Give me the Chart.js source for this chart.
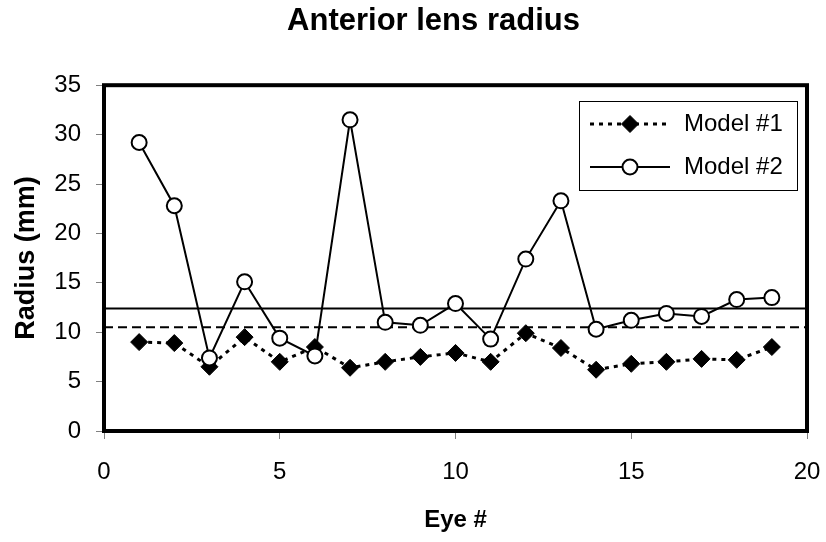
<!DOCTYPE html>
<html>
<head>
<meta charset="utf-8">
<title>Anterior lens radius</title>
<script src="https://cdn.jsdelivr.net/npm/chart.js@4/dist/chart.umd.min.js"></script>
<style>
  html, body { margin: 0; padding: 0; background: #fff; }
  #chart { display: block; }
</style>
</head>
<body>
<canvas id="chart" width="826" height="542"></canvas>
<script>
'use strict';

const eyes = [1, 2, 3, 4, 5, 6, 7, 8, 9, 10, 11, 12, 13, 14, 15, 16, 17, 18, 19];
const model1 = [9.0, 8.9, 6.5, 9.5, 7.0, 8.5, 6.4, 7.0, 7.5, 7.9, 7.0, 9.9, 8.4, 6.2, 6.8, 7.0, 7.3, 7.2, 8.5];
const model2 = [29.2, 22.8, 7.4, 15.1, 9.4, 7.6, 31.5, 11.0, 10.7, 12.9, 9.3, 17.4, 23.3, 10.3, 11.2, 11.9, 11.6, 13.3, 13.5];
const model1Ref = 10.5;
const model2Ref = 12.4;
const xTicks = [0, 5, 10, 15, 20];
const yTicks = [0, 5, 10, 15, 20, 25, 30, 35];

Chart.defaults.font.family = '"Liberation Sans", Arial, sans-serif';
Chart.defaults.color = '#000';

function toPoints(values) {
  return eyes.map((x, i) => ({ x: x, y: values[i] }));
}

function refLine(y) {
  return [{ x: xTicks[0], y: y }, { x: xTicks[xTicks.length - 1], y: y }];
}

// thick box round the plot area
const frame = {
  id: 'frame',
  afterDatasetsDraw(chart) {
    const { ctx, chartArea: a } = chart;
    ctx.save();
    ctx.lineWidth = 4;
    ctx.strokeStyle = '#000';
    ctx.strokeRect(a.left, a.top, a.right - a.left, a.bottom - a.top);
    ctx.restore();
  }
};

// legend sits inside the plot, top right
const boxLegend = {
  id: 'boxLegend',
  afterDraw(chart) {
    const ctx = chart.ctx;
    const items = chart.data.datasets.filter(d => d.inLegend);
    ctx.save();
    ctx.fillStyle = '#fff';
    ctx.fillRect(579, 101, 218, 89);
    ctx.strokeStyle = '#000';
    ctx.lineWidth = 1;
    ctx.strokeRect(579.5, 101.5, 218, 89);

    items.forEach((ds, i) => {
      const y = 124 + i * 43;
      ctx.setLineDash(ds.borderDash || []);
      ctx.lineWidth = ds.borderWidth;
      ctx.strokeStyle = ds.borderColor;
      ctx.beginPath();
      ctx.moveTo(590, y);
      ctx.lineTo(670, y);
      ctx.stroke();
      ctx.setLineDash([]);

      const r = ds.pointRadius;
      ctx.fillStyle = ds.pointBackgroundColor;
      ctx.strokeStyle = ds.pointBorderColor;
      ctx.lineWidth = ds.pointBorderWidth;
      ctx.beginPath();
      if (ds.pointStyle === 'rectRot') {
        ctx.moveTo(630 - r, y);
        ctx.lineTo(630, y - r);
        ctx.lineTo(630 + r, y);
        ctx.lineTo(630, y + r);
        ctx.closePath();
      } else {
        ctx.arc(630, y, r, 0, Math.PI * 2);
      }
      ctx.fill();
      ctx.stroke();

      ctx.fillStyle = '#000';
      ctx.font = '24px "Liberation Sans", Arial, sans-serif';
      ctx.textAlign = 'left';
      ctx.textBaseline = 'middle';
      ctx.fillText(ds.label, 684, y);
    });
    ctx.restore();
  }
};

// the title is centred a bit left of the plot, as in the original
const titleShift = {
  id: 'titleShift',
  afterLayout(chart) {
    if (chart.titleBlock) chart.titleBlock.left = 60;
  }
};

new Chart(document.getElementById('chart'), {
  type: 'scatter',
  data: {
    datasets: [
      {
        label: 'Model #1',
        inLegend: true,
        data: toPoints(model1),
        showLine: true,
        borderColor: '#000',
        borderWidth: 3,
        borderDash: [4, 5],
        pointStyle: 'rectRot',
        pointRadius: 8.5,
        pointBackgroundColor: '#000',
        pointBorderColor: '#000',
        pointBorderWidth: 1,
        order: 1
      },
      {
        label: 'Model #2',
        inLegend: true,
        data: toPoints(model2),
        showLine: true,
        borderColor: '#000',
        borderWidth: 2,
        pointStyle: 'circle',
        pointRadius: 7.5,
        pointBackgroundColor: '#fff',
        pointBorderColor: '#000',
        pointBorderWidth: 2,
        order: 0
      },
      {
        label: 'Model #1 reference',
        data: refLine(model1Ref),
        showLine: true,
        borderColor: '#000',
        borderWidth: 2,
        borderDash: [9, 5],
        pointRadius: 0,
        order: 2
      },
      {
        label: 'Model #2 reference',
        data: refLine(model2Ref),
        showLine: true,
        borderColor: '#000',
        borderWidth: 2,
        pointRadius: 0,
        order: 2
      }
    ]
  },
  options: {
    responsive: false,
    animation: false,
    devicePixelRatio: 1,
    events: [],
    layout: { padding: { left: 0, right: 19, top: 0, bottom: 0 } },
    plugins: {
      legend: { display: false },
      tooltip: { enabled: false },
      title: {
        display: true,
        text: 'Anterior lens radius',
        color: '#000',
        font: { size: 31, weight: 'bold' },
        padding: { top: 3, bottom: 45 }
      }
    },
    scales: {
      x: {
        type: 'linear',
        min: xTicks[0],
        max: xTicks[xTicks.length - 1],
        afterBuildTicks: s => { s.ticks = xTicks.map(v => ({ value: v })); },
        afterFit: s => {
          s.height = 111;
          s.paddingLeft = 0;
          s.paddingRight = 0;
        },
        border: { display: false },
        grid: { drawOnChartArea: false, drawTicks: true, tickLength: 8, color: '#808080', lineWidth: 1 },
        ticks: { color: '#000', font: { size: 24 }, padding: 19, maxRotation: 0 },
        title: {
          display: true,
          text: 'Eye #',
          color: '#000',
          font: { size: 24, weight: 'bold' },
          padding: { top: 0, bottom: 7 }
        }
      },
      y: {
        type: 'linear',
        min: yTicks[0],
        max: yTicks[yTicks.length - 1],
        afterBuildTicks: s => { s.ticks = yTicks.map(v => ({ value: v })); },
        afterFit: s => {
          s.width = 104;
          s.paddingTop = 0;
          s.paddingBottom = 0;
        },
        border: { display: false },
        grid: { drawOnChartArea: false, drawTicks: true, tickLength: 8, color: '#808080', lineWidth: 1 },
        ticks: { color: '#000', font: { size: 24 }, padding: 15 },
        title: {
          display: true,
          text: 'Radius (mm)',
          color: '#000',
          font: { size: 27, weight: 'bold' },
          padding: { top: 10, bottom: 0 }
        }
      }
    }
  },
  plugins: [frame, boxLegend, titleShift]
});
</script>
</body>
</html>
